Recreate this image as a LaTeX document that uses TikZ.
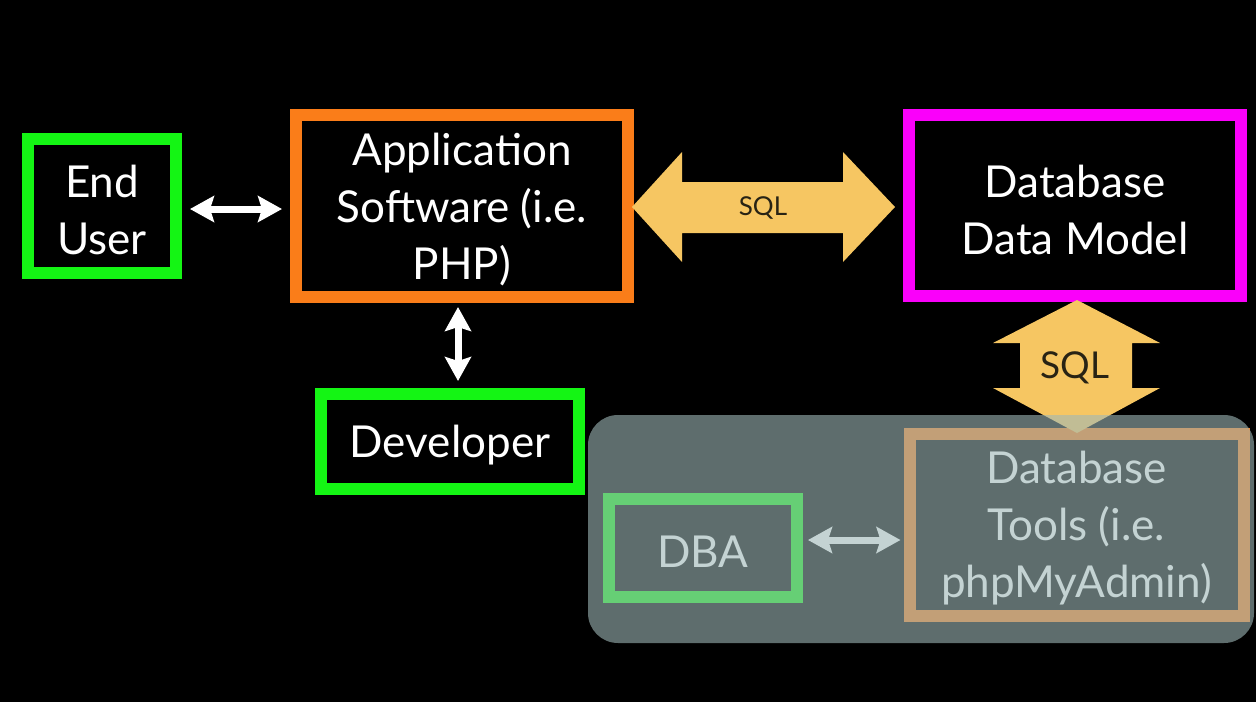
\documentclass[tikz,border=0pt]{standalone}
\usepackage{fontspec}
\setmainfont{Lato}
\usetikzlibrary{arrows.meta}
\definecolor{bgblack}{RGB}{0,0,0}
\definecolor{boxgreen}{RGB}{20,245,20}
\definecolor{boxorange}{RGB}{250,125,25}
\definecolor{boxmagenta}{RGB}{250,0,250}
\definecolor{sqlyellow}{RGB}{246,198,98}
\definecolor{sqltext}{RGB}{40,35,20}
\definecolor{veil}{RGB}{158,183,183}
\tikzset{
  box/.style={draw=#1, line width=12pt, rectangle, inner sep=0pt},
  boxtext/.style={align=center, text=white, inner sep=0pt, yshift=-4pt,
    font=\fontsize{44}{57}\selectfont},
  warr/.style={draw=white, line width=7pt, {Stealth[length=24pt,width=26pt,inset=4pt]}-{Stealth[length=24pt,width=26pt,inset=4pt]}},
  fat/.style={fill=sqlyellow, draw=none},
  sqllabel/.style={text=sqltext, inner sep=0pt}
}
\begin{document}
\begin{tikzpicture}[x=1pt,y=-1pt]
\fill[bgblack] (0,0) rectangle (1256,702);
\useasboundingbox (0,0) rectangle (1256,702);

\node[box=boxgreen, minimum width=148pt, minimum height=134pt,
  label={[boxtext]center:{End\\User}}] (eu) at (102,206) {};
\node[box=boxorange, minimum width=332pt, minimum height=182pt,
  label={[boxtext]center:{Application\\Software (i.e.\\PHP)}}] (app) at (462,206) {};
\node[box=boxmagenta, minimum width=332pt, minimum height=181pt,
  label={[boxtext]center:{Database\\Data Model}}] (dbm) at (1075,205.5) {};
\node[box=boxgreen, minimum width=258pt, minimum height=95pt,
  label={[boxtext]center:{Developer}}] (dev) at (450,441.5) {};
\node[box=boxgreen, minimum width=188pt, minimum height=98pt,
  label={[boxtext]center:{DBA}}] (dba) at (703,548) {};
\node[box=boxorange, minimum width=334pt, minimum height=182pt,
  label={[boxtext]center:{Database\\Tools (i.e.\\phpMyAdmin)}}] (tools) at (1076.5,524.5) {};

\draw[warr, shorten <=8pt, shorten >=8pt] ([yshift=-3pt]eu.east) -- ([yshift=-3pt]eu.east -| app.west);
\draw[warr, shorten <=4pt, shorten >=7pt] ([xshift=-4pt]app.south) -- ([xshift=-4pt]app.south |- dev.north);
\draw[warr, shorten <=5pt, shorten >=3pt] ([yshift=8pt]dba.east) -- ([yshift=8pt]dba.east -| tools.west);

\fill[fat] (632,207) -- (682,152) -- (682,182) -- (843,182) -- (843,152) -- (895,207)
  -- (843,262) -- (843,233) -- (682,233) -- (682,262) -- cycle;
\node[sqllabel, font=\fontsize{26}{30}\selectfont] (sqlh) at (763,208) {SQL};

\fill[fat] (1077,300) -- (1160,343) -- (1132,343) -- (1132,388) -- (1160,388) -- (1077,433)
  -- (993,388) -- (1020,388) -- (1020,343) -- (993,343) -- cycle;
\node[sqllabel, font=\fontsize{37}{42}\selectfont] (sqlv) at (1075,368) {SQL};

\fill[veil, fill opacity=0.6, rounded corners=30pt] (588,415) rectangle (1254,643);
\end{tikzpicture}
\end{document}
